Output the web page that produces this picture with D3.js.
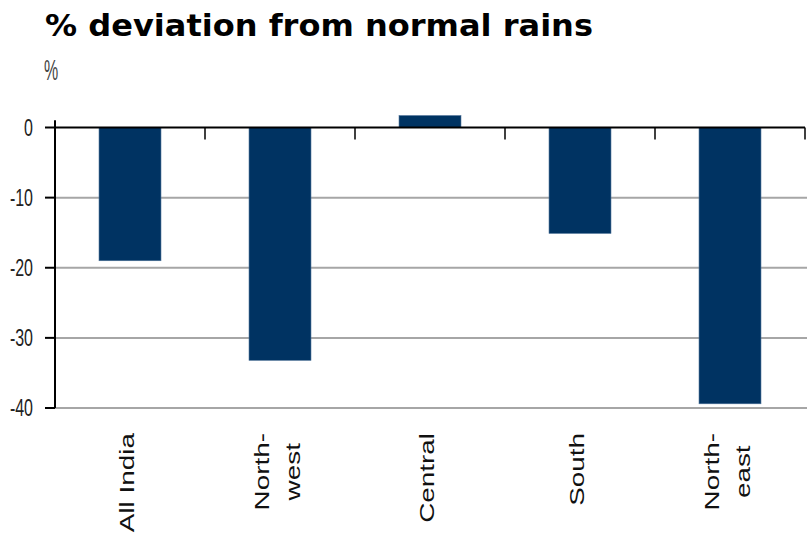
<!DOCTYPE html>
<html>
<head>
<meta charset="utf-8">
<script src="https://cdn.jsdelivr.net/npm/d3@7"></script>
<style>
  body { margin: 0; background: #fff; }
</style>
</head>
<body>
<div id="chart"></div>
<script>
// data
const categories = [["All India"], ["North-", "west"], ["Central"], ["South"], ["North-", "east"]];
const values = [-19, -33.2, 1.7, -15.1, -39.4];
const yTicks = [0, -10, -20, -30, -40];

const width = 807, height = 534;
const left = 55, right = 805, zeroY = 127.5, bottomY = 408;

const svg = d3.select('#chart')
    .append('svg')
    .attr('width', width)
    .attr('height', height)
    .style('font-family', '"Liberation Sans", Arial, sans-serif');

const keys = categories.map(d => d.join(' '));

const x = d3.scaleBand()
    .domain(keys)
    .range([left, right])
    .paddingInner(0.587)
    .paddingOuter(0.2935);

const step = x.step();

const y = d3.scaleLinear()
    .domain([-40, 0])
    .range([bottomY, zeroY]);

// title
svg.append('text')
    .attr('x', 45)
    .attr('y', 36)
    .attr('textLength', 548)
    .attr('lengthAdjust', 'spacingAndGlyphs')
    .style('font-family', '"DejaVu Sans", Verdana, sans-serif')
    .style('font-weight', 'bold')
    .style('font-size', '31px')
    .attr('fill', '#000')
    .text('% deviation from normal rains');

// unit label
svg.append('text')
    .attr('transform', 'translate(44,80) scale(1,1.9)')
    .style('font-size', '16px')
    .attr('fill', '#444')
    .text('%');

// gridlines
svg.append('g')
    .selectAll('line')
    .data(yTicks.filter(d => d !== 0))
    .enter()
    .append('line')
    .attr('x1', left)
    .attr('x2', width)
    .attr('y1', d => y(d))
    .attr('y2', d => y(d))
    .attr('stroke', '#a6a6a6')
    .attr('stroke-width', 2);

// bars
svg.append('g')
    .selectAll('rect')
    .data(values)
    .enter()
    .append('rect')
    .attr('x', (d, i) => x(keys[i]))
    .attr('width', x.bandwidth())
    .attr('y', d => y(Math.max(0, d)))
    .attr('height', d => Math.abs(y(d) - y(0)))
    .attr('fill', '#003362')
    .attr('stroke', '#4a6f96')
    .attr('stroke-width', 0.6);

// y axis
svg.append('line')
    .attr('x1', left).attr('x2', left)
    .attr('y1', y(1.05)).attr('y2', y(-40))
    .attr('stroke', '#000')
    .attr('stroke-width', 2);

svg.append('g')
    .selectAll('line')
    .data(yTicks)
    .enter()
    .append('line')
    .attr('x1', left - 10).attr('x2', left)
    .attr('y1', d => y(d)).attr('y2', d => y(d))
    .attr('stroke', '#000')
    .attr('stroke-width', 2);

svg.append('g')
    .selectAll('text')
    .data(yTicks)
    .enter()
    .append('text')
    .attr('transform', d => `translate(33,${y(d)}) scale(1,1.45)`)
    .attr('dy', '0.36em')
    .attr('text-anchor', 'end')
    .style('font-size', '16px')
    .attr('fill', '#222')
    .text(d => d);

// zero line + category ticks
svg.append('line')
    .attr('x1', left).attr('x2', right)
    .attr('y1', y(0)).attr('y2', y(0))
    .attr('stroke', '#000')
    .attr('stroke-width', 2);

svg.append('g')
    .selectAll('line')
    .data(keys)
    .enter()
    .append('line')
    .attr('x1', d => x(d) - x.step() * x.paddingOuter() + step)
    .attr('x2', d => x(d) - x.step() * x.paddingOuter() + step)
    .attr('y1', y(0)).attr('y2', y(0) + 12)
    .attr('stroke', '#000')
    .attr('stroke-width', 1.5);

// category labels, rotated, read bottom to top
const sx = 1.36;
const lineGap = 31;
const labelTop = 433;

categories.forEach((lines, i) => {
    const cx = x(keys[i]) + x.bandwidth() / 2;
    const g = svg.append('g');
    const texts = lines.map((t, j) => g.append('text')
        .attr('text-anchor', 'middle')
        .style('font-size', '20.5px')
        .attr('fill', '#111')
        .text(t));
    const maxLen = d3.max(texts, t => t.node().getComputedTextLength()) * sx;
    const cy = labelTop + maxLen / 2;
    texts.forEach((t, j) => {
        const bx = cx + 4 + (j - (lines.length - 1) / 2) * lineGap;
        t.attr('transform', `translate(${bx},${cy}) rotate(-90) scale(${sx},1)`);
    });
});
</script>
</body>
</html>
